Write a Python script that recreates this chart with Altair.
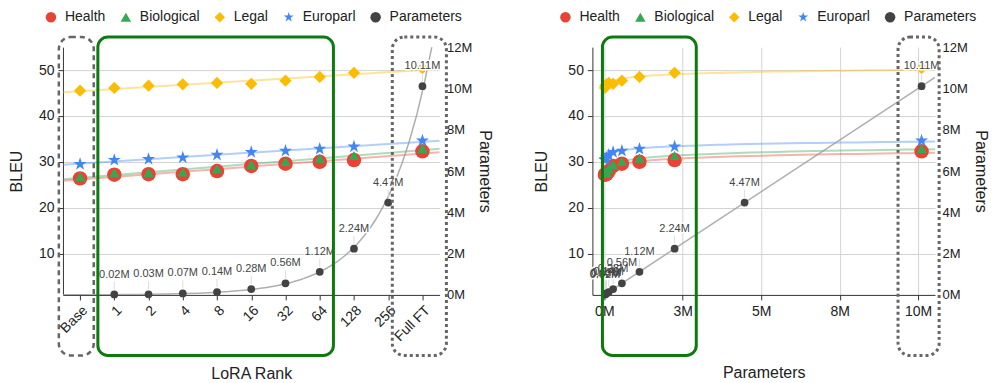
import json
import altair as alt
import pandas as pd

# ---------------- data ----------------
ranks = ["Base", "1", "2", "4", "8", "16", "32", "64", "128", "256", "Full FT"]
params_m = [None, 0.02, 0.03, 0.07, 0.14, 0.28, 0.56, 1.12, 2.24, 4.47, 10.11]
health = [26.4, 27.2, 27.3, 27.3, 28.0, 29.1, 29.6, 30.0, 30.4, None, 32.3]
biological = [26.8, 27.6, 27.7, 27.8, 28.5, 29.4, 30.1, 30.8, 31.4, None, 32.9]
legal = [45.5, 46.1, 46.6, 46.9, 47.2, 47.0, 47.7, 48.5, 49.4, None, 50.4]
europarl = [29.5, 30.4, 30.6, 30.9, 31.5, 32.1, 32.4, 32.8, 33.3, None, 34.6]

SERIES = ["Health", "Biological", "Legal", "Europarl", "Parameters"]
COLORS = ["#EA4335", "#34A853", "#FBBC04", "#4285F4", "#434343"]
STAR = ("M0,-1L0.2245,-0.309L0.951,-0.309L0.363,0.118L0.588,0.809L0,0.382"
        "L-0.588,0.809L-0.363,0.118L-0.951,-0.309L-0.2245,-0.309Z")
SHAPES = ["circle", "triangle-up", "diamond", STAR, "circle"]
SIZES = [210, 110, 150, 190, 60]

# highlight boxes (data units)
left_box_x0 = [-0.62, 0.52, 9.12]
left_box_x1 = [0.40, 7.40, 10.70]
left_box_style = ["dashed", "solid", "dotted"]
right_box_x0 = [-0.06, 9.36]
right_box_x1 = [2.93, 10.67]
right_box_style = ["solid", "dotted"]
box_y0, box_y1 = -12.2, 57.2

# ---------------- tables ----------------
rows = []
for name, vals in zip(SERIES[:4], [health, biological, legal, europarl]):
    for i, v in enumerate(vals):
        if v is None:
            continue
        rows.append({"idx": i, "p": params_m[i], "series": name, "bleu": v})
bleu_df = pd.DataFrame(rows)
right_bleu_df = bleu_df[bleu_df["p"].notna()].reset_index(drop=True)

param_df = pd.DataFrame([
    {"idx": i, "p": p, "series": "Parameters", "label": f"{p:.2f}M"}
    for i, p in enumerate(params_m) if p is not None
])

left_boxes = pd.DataFrame({"x0": left_box_x0, "x1": left_box_x1,
                           "style": left_box_style, "y0": box_y0, "y1": box_y1})
right_boxes = pd.DataFrame({"x0": right_box_x0, "x1": right_box_x1,
                            "style": right_box_style, "y0": box_y0, "y1": box_y1})

# ---------------- shared pieces ----------------
FONT = "Liberation Sans"
col_scale = alt.Scale(domain=SERIES, range=COLORS)
shape_scale = alt.Scale(domain=SERIES, range=SHAPES)
bleu_scale = alt.Scale(domain=[1, 55], nice=False, zero=False)
param_scale = alt.Scale(domain=[0, 12], nice=False, zero=False)
SIZE_EXPR = json.dumps(dict(zip(SERIES, SIZES))) + "[datum.series]"
COLOR_EXPR = json.dumps(dict(zip(SERIES, COLORS))) + "[datum.series]"


def make_legend(lx):
    return alt.Legend(orient="none", legendX=lx, legendY=-37, direction="horizontal",
                      title=None, labelFontSize=14, labelColor="#222", labelFont=FONT,
                      symbolSize=110, columnPadding=13, labelOffset=7,
                      symbolStrokeWidth=0, symbolOpacity=1, padding=0)


def panel(xfield, xscale, xaxis, bdata, bmethod, bextent, pmethod, pextent,
          boxes, lx, width, bleu_title_pad):
    legend = make_legend(lx)
    X = lambda f: alt.X(f"{f}:Q", scale=xscale, axis=xaxis)
    Yb = alt.Y("bleu:Q", scale=bleu_scale,
               axis=alt.Axis(title="BLEU", values=[10, 20, 30, 40, 50], grid=True,
                             tickSize=5, labelPadding=4,
                             titlePadding=bleu_title_pad))
    Yp = alt.Y("py:Q", scale=param_scale,
               axis=alt.Axis(title="Parameters", orient="right",
                             values=[0, 2, 4, 6, 8, 10, 12],
                             labelExpr="datum.value + 'M'", grid=False,
                             domain=False, ticks=False, labelPadding=7,
                             labelFontSize=13, titlePadding=5))
    color = alt.Color("series:N", scale=col_scale, legend=legend)
    shape = alt.Shape("series:N", scale=shape_scale, legend=legend)
    size = alt.Size("sz:Q", scale=None)

    trend = alt.Chart(bdata).transform_regression(
        xfield, "bleu", groupby=["series"], method=bmethod, extent=bextent
    ).transform_calculate(col=COLOR_EXPR).mark_line(strokeWidth=2, opacity=0.4).encode(
        x=X(xfield), y=Yb, detail="series:N",
        stroke=alt.Stroke("col:N", scale=None))
    pts = alt.Chart(bdata).transform_calculate(sz=SIZE_EXPR).mark_point(
        filled=True, opacity=1, strokeWidth=0).encode(
        x=X(xfield), y=Yb, color=color, shape=shape, size=size)
    bleu_layer = alt.layer(trend, pts)

    pbase = alt.Chart(param_df).transform_calculate(py="datum.p", sz=SIZE_EXPR)
    ptrend = pbase.transform_regression(
        xfield, "py", method=pmethod, extent=pextent
    ).mark_line(strokeWidth=1.5, color="#9a9a9a", opacity=0.8, clip=True).encode(
        x=X(xfield), y=Yp)
    pdots = pbase.mark_point(filled=True, opacity=1, strokeWidth=0).encode(
        x=X(xfield), y=Yp, color=color, shape=shape, size=size)
    stems = pbase.mark_rule(color="#dddddd", strokeWidth=1, yOffset=-5,
                            y2Offset=-13).encode(x=X(xfield), y=Yp, y2="py:Q")
    halo = pbase.mark_text(dy=-20, fontSize=11, font=FONT, stroke="white",
                           strokeWidth=3, strokeJoin="round").encode(
        x=X(xfield), y=Yp, text="label:N")
    txt = pbase.mark_text(dy=-20, fontSize=11, font=FONT, color="#444").encode(
        x=X(xfield), y=Yp, text="label:N")
    param_layer = alt.layer(ptrend, stems, pdots, halo, txt)

    Ybox = alt.Y("y0:Q", scale=bleu_scale, axis=None)
    bx = alt.Chart(boxes)
    box_solid = bx.transform_filter("datum.style == 'solid'").mark_rect(
        fillOpacity=0, stroke="#0E7A0E", strokeWidth=3, cornerRadius=10).encode(
        x=X("x0"), x2="x1:Q", y=Ybox, y2="y1:Q")
    box_dotted = bx.transform_filter("datum.style == 'dotted'").mark_rect(
        fillOpacity=0, stroke="#666", strokeWidth=3, strokeDash=[3, 3],
        cornerRadius=12).encode(x=X("x0"), x2="x1:Q", y=Ybox, y2="y1:Q")
    box_dashed = bx.transform_filter("datum.style == 'dashed'").mark_rect(
        fillOpacity=0, stroke="#666", strokeWidth=2.5, strokeDash=[5, 4],
        cornerRadius=12).encode(x=X("x0"), x2="x1:Q", y=Ybox, y2="y1:Q")
    box_layer = alt.layer(box_solid, box_dotted, box_dashed)

    return alt.layer(bleu_layer, param_layer, box_layer).resolve_scale(
        y="independent").properties(width=width, height=248)


left_axis = alt.Axis(values=list(range(len(ranks))),
                     labelExpr=json.dumps(ranks) + "[datum.value]",
                     labelAngle=-45, labelOverlap=False, title="LoRA Rank",
                     grid=False, tickSize=5, labelPadding=3, titlePadding=22)
left = panel("idx", alt.Scale(domain=[-0.5, 10.5], nice=False, zero=False),
             left_axis, bleu_df, "linear", [-0.5, 10.5], "exp", [-0.5, 10.5],
             left_boxes, -19, 377, 14)

right_axis = alt.Axis(values=[0, 2.5, 5, 7.5, 10],
                      labelExpr="format(datum.value, '.0f') + 'M'", labelAngle=0,
                      labelOverlap=False, title="Parameters", grid=True, tickSize=5,
                      labelPadding=5, titlePadding=46)
right = panel("p", alt.Scale(domain=[-0.38, 10.54], nice=False, zero=False),
              right_axis, right_bleu_df, "log", [0.02, 10.54], "linear",
              [-0.38, 10.54], right_boxes, -34, 343, 18)

chart = alt.hconcat(left, right, spacing=40).resolve_scale(
    color="independent", shape="independent"
).resolve_legend(color="independent", shape="independent").properties(
    padding={"top": 2, "left": 0, "right": 0, "bottom": 0}
).configure(font=FONT).configure_view(stroke=None).configure_axis(
    labelFont=FONT, titleFont=FONT, labelFontSize=14, labelColor="#222",
    titleFontSize=16, titleFontWeight="normal", titleColor="#222",
    domainColor="#333", tickColor="#333", gridColor="#d3d3d3")

chart.save("out.html", embed_options={"renderer": "svg", "actions": False})
